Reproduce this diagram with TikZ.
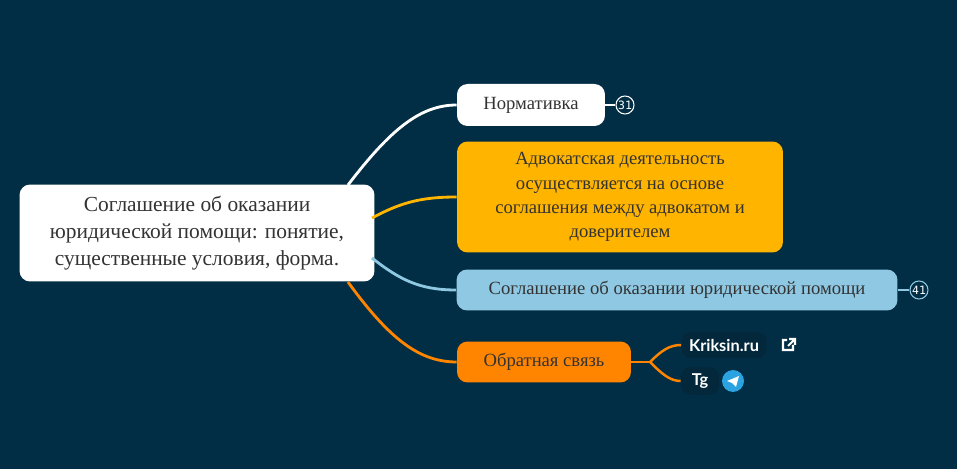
\documentclass[tikz,border=0pt]{standalone}
\usepackage{fontspec}
\usetikzlibrary{calc}
\setmainfont{Liberation Serif}
\newfontfamily\linkfont{Lato}
\newfontfamily\badgefont{DejaVu Sans Mono}
\definecolor{bgblue}{HTML}{022E45}
\definecolor{linkbg}{HTML}{04283B}
\definecolor{gold}{HTML}{FFB400}
\definecolor{skyblue}{HTML}{8FC8E3}
\definecolor{deeporange}{HTML}{FF8500}
\definecolor{tgblue}{HTML}{2AA3E0}
\tikzset{
  topic/.style={rounded corners=6pt, inner sep=0pt, text=black!80, font=\fontsize{10.6pt}{13.8pt}\selectfont, align=center},
  linkbox/.style={rounded corners=5pt, fill=linkbg, text=white, font=\linkfont\bfseries\fontsize{9.3pt}{11pt}\selectfont, inner sep=0pt},
  badge/.style={circle, draw=white, line width=0.6pt, inner sep=0pt, minimum size=0.36cm, text=white, font=\badgefont\fontsize{6.5pt}{7pt}\selectfont},
  branch/.style={line width=1.6pt}
}
\begin{document}
\begin{tikzpicture}[x=0.02cm, y=-0.02cm]
  \fill [bgblue] (0,0) rectangle (957,469);
  \useasboundingbox (0,0) rectangle (957,469);

  % root
  \node [topic, fill=white, minimum width=7.1cm, minimum height=1.94cm, font=\fontsize{12.2pt}{15.5pt}\selectfont] (root) at (197,233)
    {Соглашение об оказании\\юридической помощи: понятие,\\существенные условия, форма.};

  % topics
  \node [topic, fill=white, minimum width=2.96cm, minimum height=0.84cm] (norm) at (531,105) {Нормативка};
  \node [badge] (normcount) at (625,105) {31};
  \node [topic, fill=gold, minimum width=6.52cm, minimum height=2.22cm] (advocate) at (620,197)
    {Адвокатская деятельность\\осуществляется на основе\\соглашения между адвокатом и\\доверителем};
  \node [topic, fill=skyblue, minimum width=8.82cm, minimum height=0.82cm] (agreement) at (677,290)
    {Соглашение об оказании юридической помощи};
  \node [badge, draw=skyblue] (agrcount) at (919,290) {41};
  \node [topic, fill=deeporange, minimum width=3.48cm, minimum height=0.82cm] (feedback) at (544,362) {Обратная связь};

  % links
  \node [linkbox, minimum width=1.7cm, minimum height=0.52cm] (kriksin) at (724,345) {Kriksin.ru};
  \node [linkbox, minimum width=0.76cm, minimum height=0.56cm] (tg) at (700,381) {Tg};
  \node [circle, fill=tgblue, minimum size=0.44cm, inner sep=0pt] (tgicon) at (733,381) {};
  \fill [white] ($(tgicon)+(-6,0)$) -- ($(tgicon)+(6,-5)$) -- ($(tgicon)+(3,6)$) -- ($(tgicon)+(-1,2)$) -- cycle;
  \draw [white, line width=1.2pt] (783,342) -- (783,350) -- (793,350) -- (793,345)
    (787,340) -- (783,340) -- (783,342) (789,339) -- (795,339) -- (795,345) (795,339) -- (788,346);

  % connectors
  \coordinate (rootN) at (348,185);
  \coordinate (rootNE) at (372,218);
  \coordinate (rootSE) at (372,258);
  \coordinate (rootS) at (348,282);
  \coordinate (fork) at (650,362);
  \draw [branch, white] (rootN) .. controls (390,130) and (420,105) .. (norm.west);
  \draw [branch, gold] (rootNE) .. controls (400,203) and (420,197) .. (advocate.west);
  \draw [branch, skyblue] (rootSE) .. controls (400,280) and (420,290) .. (agreement.west);
  \draw [branch, deeporange] (rootS) .. controls (390,340) and (420,362) .. (feedback.west);
  \draw [skyblue, line width=1pt] (agreement.east) -- (agrcount.west);
  \draw [white, line width=1pt] (norm.east) -- (normcount.west);
  \draw [deeporange, line width=1.4pt] (feedback.east) -- (fork);
  \draw [deeporange, line width=1.4pt] (fork) .. controls (662,350) and (670,345) .. (kriksin.west);
  \draw [deeporange, line width=1.4pt] (fork) .. controls (662,374) and (670,381) .. (tg.west);
\end{tikzpicture}
\end{document}
